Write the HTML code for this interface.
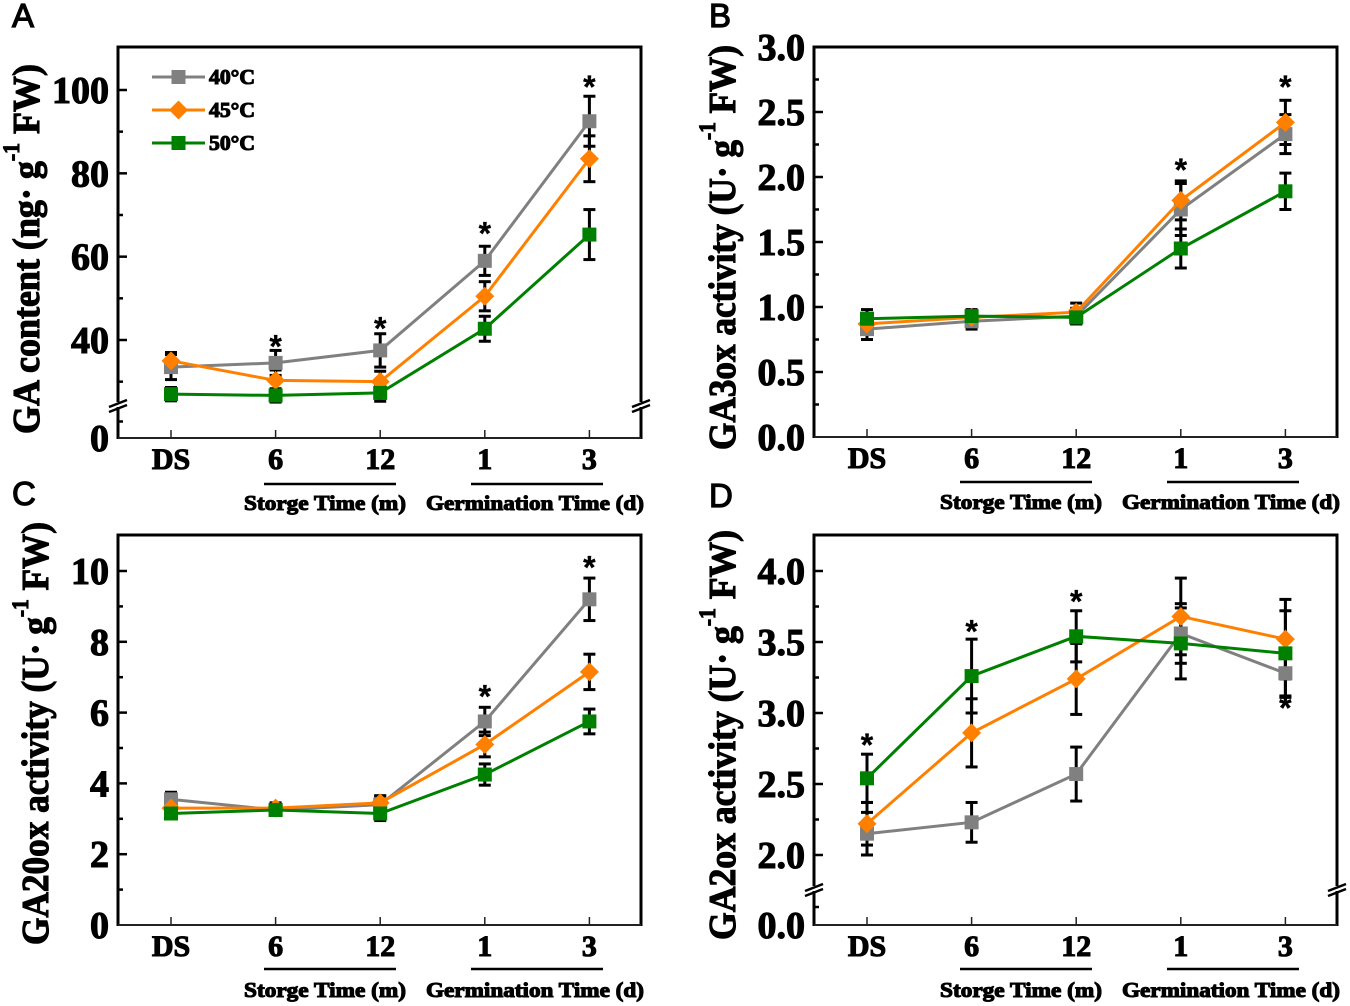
<!DOCTYPE html>
<html lang="en">
<head>
<meta charset="utf-8">
<title>GA content and enzyme activity</title>
<style>
html,body{margin:0;padding:0;background:#fff;width:1350px;height:1006px;overflow:hidden}
svg{display:block;filter:blur(.35px)}
text{font-family:"Liberation Serif",serif;font-weight:bold;fill:#000;stroke:#000;stroke-width:1.1px}
.letter{font-family:"Liberation Sans",sans-serif;font-weight:normal;font-size:33px;stroke-width:1.2px}
.star{font-family:"Liberation Sans",sans-serif;font-size:32px;stroke-width:.3px;text-anchor:middle}
</style>
</head>
<body>
<svg id="figure" xmlns="http://www.w3.org/2000/svg" width="1350" height="1006" viewBox="0 0 1350 1006"></svg>
<script>
const categories = ['DS', '6', '12', '1', '3'];
const seriesNames = ['40°C', '45°C', '50°C'];

const aTicks = [0, 40, 60, 80, 100];
const aMinor = [5, 30, 50, 70, 90];
const aGray = [33.5, 34.5, 37.5, 59, 92.5];
const aOrange = [35, 30.3, 30, 50.5, 83.5];
const aGreen = [27, 26.7, 27.3, 42.7, 65.3];
const aGrayErr = [3, 3, 4, 3.5, 6];
const aOrangeErr = [2, 2.5, 2.5, 3.5, 5.5];
const aGreenErr = [1.6, 1.6, 2, 3, 6];
const aStars = [null, 39.3, 43.6, 66.4, 101.6];

const bTicks = [0, 0.5, 1, 1.5, 2, 2.5, 3];
const bMinor = [0.25, 0.75, 1.25, 1.75, 2.25, 2.75];
const bGray = [0.83, 0.89, 0.93, 1.75, 2.33];
const bOrange = [0.87, 0.92, 0.96, 1.82, 2.42];
const bGreen = [0.91, 0.93, 0.92, 1.45, 1.89];
const bGrayErr = [0.08, 0.06, 0.06, 0.2, 0.15];
const bOrangeErr = [0.08, 0.05, 0.07, 0.15, 0.17];
const bGreenErr = [0.07, 0.05, 0.05, 0.15, 0.14];
const bStars = [null, null, null, 2.08, 2.72];

const cTicks = [0, 2, 4, 6, 8, 10];
const cMinor = [1, 3, 5, 7, 9];
const cGray = [3.55, 3.25, 3.4, 5.75, 9.2];
const cOrange = [3.3, 3.3, 3.45, 5.1, 7.15];
const cGreen = [3.15, 3.25, 3.15, 4.25, 5.75];
const cGrayErr = [0.2, 0.15, 0.25, 0.4, 0.6];
const cOrangeErr = [0.2, 0.15, 0.2, 0.35, 0.5];
const cGreenErr = [0.15, 0.15, 0.2, 0.3, 0.35];
const cStars = [null, null, null, 6.55, 10.2];

const dTicks = [0, 2, 2.5, 3, 3.5, 4];
const dMinor = [0.5, 2.25, 2.75, 3.25, 3.75];
const dGray = [2.15, 2.23, 2.57, 3.56, 3.28];
const dOrange = [2.22, 2.86, 3.24, 3.68, 3.52];
const dGreen = [2.54, 3.26, 3.54, 3.49, 3.42];
const dGrayErr = [0.15, 0.14, 0.19, 0.21, 0.17];
const dOrangeErr = [0.15, 0.24, 0.25, 0.27, 0.28];
const dGreenErr = [0.17, 0.26, 0.18, 0.25, 0.3];
const dStars = [2.8, 3.6, 3.81, null, 3.06];

const NS = 'http://www.w3.org/2000/svg';
const svg = document.getElementById('figure');
const COLORS = ['#808080', '#ff8000', '#008000'];

function make(tag, attrs, parent, txt) {
  const el = document.createElementNS(NS, tag);
  for (const k in attrs) el.setAttribute(k, attrs[k]);
  if (txt !== undefined) el.textContent = txt;
  (parent || svg).appendChild(el);
  return el;
}
function line(x1, y1, x2, y2, w, parent, color) {
  return make('line', {x1, y1, x2, y2, stroke: color || '#000', 'stroke-width': w}, parent);
}
function marker(kind, x, y, color, parent) {
  if (kind === 1) {
    const r = 9.5;
    return make('polygon', {points: (x - r) + ',' + y + ' ' + x + ',' + (y - r) + ' ' + (x + r) + ',' + y + ' ' + x + ',' + (y + r), fill: color}, parent);
  }
  return make('rect', {x: x - 7, y: y - 7, width: 14, height: 14, fill: color}, parent);
}

function drawPanel(p) {
  const g = make('g', {});
  
  

  const ref = p.ref;
  const perUnit = (ref.y1 - ref.y2) / (ref.v2 - ref.v1);
  const yScale = function (v) {
    if (p.brk && v <= p.brk.low) {
      return p.bottom + (p.brk.y - p.bottom) * (v / p.brk.low);
    }
    return ref.y1 - (v - ref.v1) * perUnit;
  };
  const xScale = function (i) { return p.left + 53 + i * 104.6; };

  // panel letter
  const letter = make('text', {x: p.letterX, y: p.letterY, class: 'letter'}, g, p.letter);
  
  

  // y ticks
  const yTicks = make('g', {}, g);
  
  
  p.ticks.forEach(function (v) {
    const y = yScale(v);
    if (v !== 0) line(p.left, y, p.left + 9, y, 2.5, yTicks);
    const label = make('text', {x: p.left - 9, y: y + 13, 'text-anchor': 'end', 'font-size': 38}, yTicks, p.format(v));
    
    
  });
  p.minor.forEach(function (v) {
    const y = yScale(v);
    line(p.left, y, p.left + 5, y, 2.5, yTicks);
  });

  // x ticks
  const xTicks = make('g', {}, g);
  
  
  categories.forEach(function (c, i) {
    const x = xScale(i);
    line(x, p.bottom, x, p.bottom - 8, 1.5, xTicks, '#222');
    const label = make('text', {x: x, y: p.bottom + 31, 'text-anchor': 'middle', 'font-size': 30}, xTicks, c);
    
    
  });

  // frame
  const frame = make('g', {}, g);
  
  
  line(p.left, p.top, p.right, p.top, 3, frame);
  line(p.left, p.top - 1.5, p.left, p.bottom + 1, 3, frame);
  line(p.right, p.top - 1.5, p.right, p.bottom + 1, 3, frame);
  line(p.left, p.bottom, p.right, p.bottom, 2, frame, '#222');

  // axis breaks
  if (p.brk) {
    [p.left, p.right].forEach(function (bx) {
      make('rect', {x: bx - 3, y: p.brk.y - 3, width: 6, height: 5, fill: '#fff'}, frame);
      line(bx - 9, p.brk.y + 2, bx + 9, p.brk.y - 5, 2.5, frame);
      line(bx - 9, p.brk.y + 7, bx + 9, p.brk.y, 2.5, frame);
    });
  }

  // error bars
  const errs = make('g', {}, g);
  
  
  p.series.forEach(function (s) {
    s.values.forEach(function (v, i) {
      const x = xScale(i);
      const yHi = yScale(v + s.err[i]);
      const yLo = yScale(v - s.err[i]);
      line(x, yHi, x, yLo, 3, errs);
      line(x - 6, yHi, x + 6, yHi, 3, errs);
      line(x - 6, yLo, x + 6, yLo, 3, errs);
    });
  });

  // series
  p.series.forEach(function (s, k) {
    const sg = make('g', {}, g);
    
    
    const pts = s.values.map(function (v, i) { return xScale(i) + ',' + yScale(v); }).join(' ');
    make('polyline', {points: pts, fill: 'none', stroke: COLORS[k], 'stroke-width': 3}, sg);
    s.values.forEach(function (v, i) {
      marker(k === 1 ? 1 : 0, xScale(i), yScale(v), COLORS[k], sg);
    });
  });

  // significance stars
  p.stars.forEach(function (v, i) {
    if (v === null) return;
    const st = make('text', {x: xScale(i), y: yScale(v) + 14.5, class: 'star'}, g, '*');
    
    
  });

  // y title
  const t = make('text', {
    transform: 'translate(' + p.titleX + ',' + p.titleY + ') rotate(-90)',
    'font-size': 38,
    textLength: p.titleLen,
    lengthAdjust: 'spacingAndGlyphs'
  }, g);
  
  
  make('tspan', {}, t, p.title + ' g');
  make('tspan', {dy: -20, 'font-size': 23}, t, '-1');
  make('tspan', {dy: 20}, t, ' FW)');

  // group brackets
  const ub = p.bottom + p.under;
  const u1 = line(p.left + 146, ub, p.left + 278, ub, 2.5, g);
  
  
  const u2 = line(p.left + 353, ub, p.left + 485, ub, 2.5, g);
  
  

  const lab1 = make('text', {x: p.left + 126, y: p.bottom + 72, 'font-size': 21, textLength: 162, lengthAdjust: 'spacingAndGlyphs'}, g, 'Storge Time (m)');
  
  
  const lab2 = make('text', {x: p.left + 308, y: p.bottom + 72, 'font-size': 21, textLength: 218, lengthAdjust: 'spacingAndGlyphs'}, g, 'Germination Time (d)');
  
  

  // legend
  if (p.legend) {
    const lg = make('g', {}, g);
    
    
    seriesNames.forEach(function (n, k) {
      const ly = 77 + k * 33;
      const entry = make('g', {}, lg);
      
      
      line(152, ly, 205, ly, 3, entry, COLORS[k]);
      marker(k === 1 ? 1 : 0, 178.5, ly, COLORS[k], entry);
      make('text', {x: 209, y: ly + 7, 'font-size': 21, textLength: 46, lengthAdjust: 'spacingAndGlyphs'}, entry, n);
    });
  }
}

const oneDecimal = function (v) { return v.toFixed(1); };
const plain = function (v) { return String(v); };

drawPanel({
  id: 'a', letter: 'A', letterX: 12, letterY: 27, left: 118, right: 641, top: 47, bottom: 438,
  ref: {v1: 40, y1: 340, v2: 100, y2: 90}, brk: {low: 10, y: 405},
  ticks: aTicks, minor: aMinor, format: plain, stars: aStars, legend: true, under: 46,
  title: 'GA content (ng·', titleX: 39, titleY: 434, titleLen: 370,
  series: [
    {name: 'gray-40c', values: aGray, err: aGrayErr},
    {name: 'orange-45c', values: aOrange, err: aOrangeErr},
    {name: 'green-50c', values: aGreen, err: aGreenErr}
  ]
});
drawPanel({
  id: 'b', letter: 'B', letterX: 709, letterY: 27, left: 814, right: 1337, top: 47, bottom: 437,
  ref: {v1: 0, y1: 437, v2: 3, y2: 47},
  ticks: bTicks, minor: bMinor, format: oneDecimal, stars: bStars, legend: false, under: 45,
  title: 'GA3ox activity (U·', titleX: 735, titleY: 450, titleLen: 405,
  series: [
    {name: 'gray-40c', values: bGray, err: bGrayErr},
    {name: 'orange-45c', values: bOrange, err: bOrangeErr},
    {name: 'green-50c', values: bGreen, err: bGreenErr}
  ]
});
drawPanel({
  id: 'c', letter: 'C', letterX: 12, letterY: 505, left: 118, right: 641, top: 535, bottom: 925,
  ref: {v1: 0, y1: 925, v2: 10, y2: 571},
  ticks: cTicks, minor: cMinor, format: plain, stars: cStars, legend: false, under: 44,
  title: 'GA20ox activity (U·', titleX: 48, titleY: 945, titleLen: 423,
  series: [
    {name: 'gray-40c', values: cGray, err: cGrayErr},
    {name: 'orange-45c', values: cOrange, err: cOrangeErr},
    {name: 'green-50c', values: cGreen, err: cGreenErr}
  ]
});
drawPanel({
  id: 'd', letter: 'D', letterX: 709, letterY: 507, left: 814, right: 1337, top: 535, bottom: 925,
  ref: {v1: 2, y1: 855, v2: 4, y2: 571}, brk: {low: 1, y: 889},
  ticks: dTicks, minor: dMinor, format: oneDecimal, stars: dStars, legend: false, under: 44,
  title: 'GA2ox activity (U·', titleX: 735, titleY: 940, titleLen: 410,
  series: [
    {name: 'gray-40c', values: dGray, err: dGrayErr},
    {name: 'orange-45c', values: dOrange, err: dOrangeErr},
    {name: 'green-50c', values: dGreen, err: dGreenErr}
  ]
});
</script>
</body>
</html>
